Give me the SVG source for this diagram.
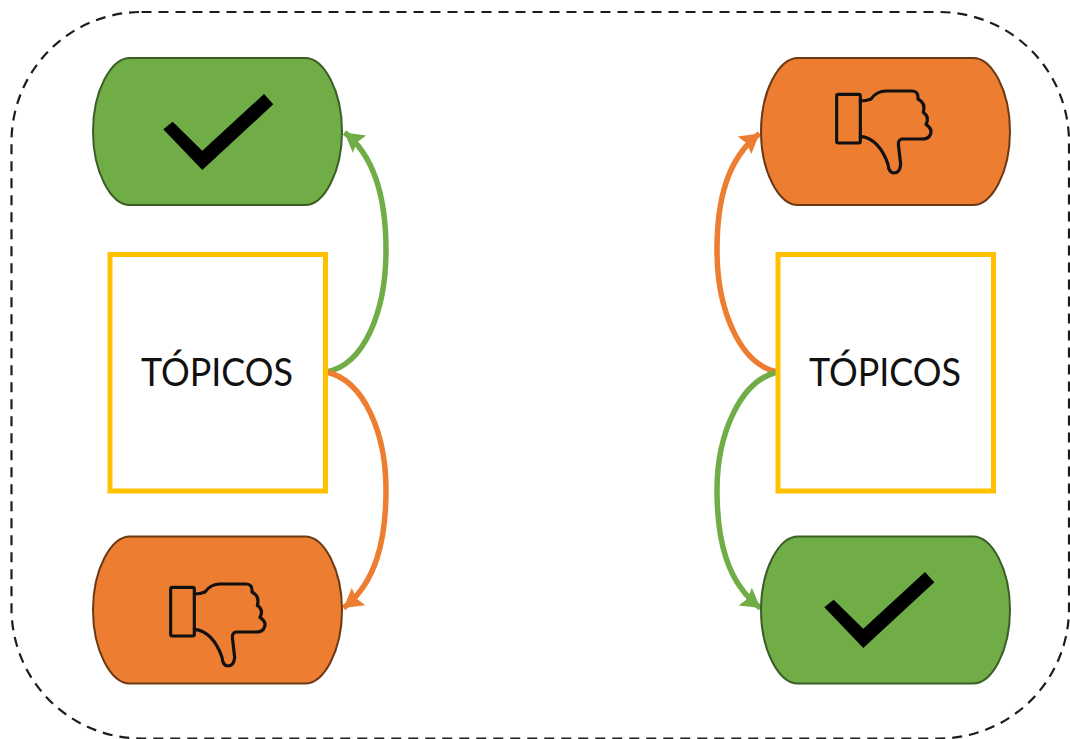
<svg xmlns="http://www.w3.org/2000/svg" width="1070" height="739" viewBox="0 0 1070 739">
<style>
.frame{fill:none;stroke:#1c1c1c;stroke-width:2.200;stroke-dasharray:10 7}
.g{fill:#70ad47;stroke:#3b5e27;stroke-width:2}
.o{fill:#ed7d31;stroke:#6b3a14;stroke-width:2}
.box{fill:#fff;stroke:#ffc000;stroke-width:5}
.label{font-family:"Lato","Open Sans",sans-serif;font-size:38px;fill:#111;text-anchor:middle}
.check{fill:#000}
.hand{fill:none;stroke:#111;stroke-width:9.500;stroke-linejoin:round;stroke-linecap:round}
.cg{fill:none;stroke:#70ad47;stroke-width:5.500;marker-end:url(#ag)}
.co{fill:none;stroke:#ed7d31;stroke-width:5.500;marker-end:url(#ao)}
</style>
<defs>
<marker id="ag" markerUnits="userSpaceOnUse" markerWidth="24" markerHeight="26" refX="19" refY="13" orient="auto"><path d="M0,2L19,13L0,24L3,13Z" fill="#70ad47"/></marker>
<marker id="ao" markerUnits="userSpaceOnUse" markerWidth="24" markerHeight="26" refX="19" refY="13" orient="auto"><path d="M0,2L19,13L0,24L3,13Z" fill="#ed7d31"/></marker>
<path id="pill" d="M37,0H212C231,0 249,33 249,73.500C249,114 231,147 212,147H37C18,147 0,114 0,73.500C0,33 18,0 37,0Z"/>
<path id="tick" d="M163.300,129.300L172.700,121.700L202.300,150.700L264,94L273.300,104.300L202.300,170Z"/>
<g id="thumb"><rect x="32" y="52" width="71" height="146" rx="5"/><path d="M103,72Q122,72 135,66Q152,42 180,42H258Q278,42 276,66Q300,78 292,106Q312,120 300,142Q324,158 310,178Q302,187 285,186H228Q214,188 218,210L224,262Q222,288 203,288Q188,286 186,262C170,215 140,180 103,178"/></g>
</defs>
<rect class="frame" x="11.500" y="12" width="1057.500" height="726.500" rx="130" ry="130"/>
<g id="connectors">
<path class="cg" d="M326,372C365,365 386,310 386,250C386,200 376,157 344.500,132.500"/>
<path class="co" d="M326,372C365,380 386,435 386,490C386,540 376,583 343.500,608"/>
<path class="co" d="M778,372C740,365 717,310 717,250C717,200 727,159 759.500,133.500"/>
<path class="cg" d="M778,372C740,380 717,435 717,490C717,540 727,583 760.500,608"/>
</g>
<g id="node-yes-left"><use href="#pill" class="g" x="93" y="58"/><use href="#tick" class="check"/></g>
<g id="node-topics-left"><rect class="box" x="110" y="254.500" width="215.500" height="236.500"/><text class="label" x="217" y="386" textLength="152" lengthAdjust="spacingAndGlyphs">TÓPICOS</text></g>
<g id="node-no-left"><use href="#pill" class="o" x="93" y="536.500"/><use href="#thumb" class="hand" transform="translate(160,570) scale(.3333)"/></g>
<g id="node-no-right"><use href="#pill" class="o" x="761" y="58"/><use href="#thumb" class="hand" transform="translate(826,77) scale(.3333)"/></g>
<g id="node-topics-right"><rect class="box" x="778" y="254.500" width="215.500" height="236.500"/><text class="label" x="885" y="386" textLength="152" lengthAdjust="spacingAndGlyphs">TÓPICOS</text></g>
<g id="node-yes-right"><use href="#pill" class="g" x="761" y="536.500"/><use href="#tick" class="check" transform="translate(661,478)"/></g>
</svg>
